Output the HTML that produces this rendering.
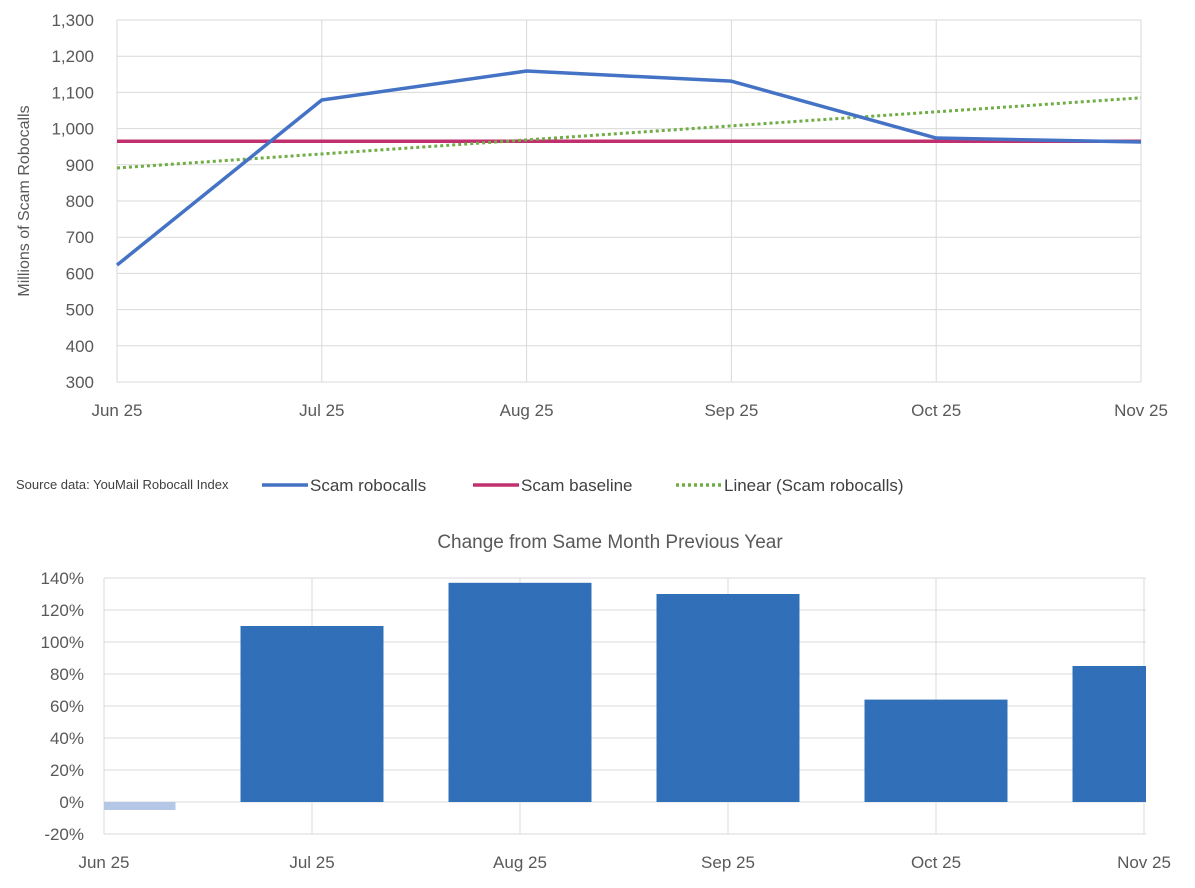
<!DOCTYPE html>
<html><head><meta charset="utf-8"><style>
body{margin:0;background:#fff;}
svg{display:block;font-family:"Liberation Sans",sans-serif;}
</style></head><body>
<svg id="c" width="1195" height="888"></svg>
<script>
const categories=["Jun 25","Jul 25","Aug 25","Sep 25","Oct 25","Nov 25"];
const scamValues=[623,1079,1159,1131,974,963];
const baselineValues=[965,965,965,965,965,965];
const yTicksTop=[300,400,500,600,700,800,900,1000,1100,1200,1300];
const changeValues=[-5,110,137,130,64,85];
const yTicksBottom=[-20,0,20,40,60,80,100,120,140];

const svg=document.getElementById('c');
const NS='http://www.w3.org/2000/svg';
function mk(tag,attrs,parent){const e=document.createElementNS(NS,tag);for(const k in attrs)e.setAttribute(k,attrs[k]);(parent||svg).appendChild(e);return e;}
const fmt=v=>v.toLocaleString('en-US');

// top chart
const T={l:117,r:1141,t:20,b:382,min:300,max:1300};
const tx=i=>T.l+i*(T.r-T.l)/(categories.length-1);
const ty=v=>T.b-(v-T.min)/(T.max-T.min)*(T.b-T.t);
const gTop=mk('g',{});

yTicksTop.forEach(v=>{
 const l=mk('line',{x1:T.l,x2:T.r,y1:ty(v),y2:ty(v),stroke:'#d9d9d9','stroke-width':1},gTop);
 
 const t=mk('text',{x:T.l-23,y:ty(v)+6,'text-anchor':'end','font-size':17,fill:'#595959'},gTop);
 t.textContent=fmt(v);
});
categories.forEach((c,i)=>{
 const l=mk('line',{x1:tx(i),x2:tx(i),y1:T.t,y2:T.b,stroke:'#d9d9d9','stroke-width':1},gTop);
 
 const t=mk('text',{x:tx(i),y:416,'text-anchor':'middle','font-size':17,fill:'#595959'},gTop);
 t.textContent=c;
});
const yt=mk('text',{x:0,y:0,transform:`translate(29,${(T.t+T.b)/2}) rotate(-90)`,'text-anchor':'middle','font-size':16,fill:'#595959'},gTop);
yt.textContent='Millions of Scam Robocalls';
// trend
const n=scamValues.length;const mx=(n-1)/2;const my=scamValues.reduce((a,b)=>a+b,0)/n;
let sxy=0,sxx=0;scamValues.forEach((v,i)=>{sxy+=(i-mx)*(v-my);sxx+=(i-mx)*(i-mx);});
const slope=sxy/sxx,icpt=my-slope*mx;
const bl=mk('polyline',{points:baselineValues.map((v,i)=>tx(i)+','+ty(v)).join(' '),fill:'none',stroke:'#c0306f','stroke-width':3.5},gTop);

const tr=mk('line',{x1:tx(0),y1:ty(icpt),x2:tx(n-1),y2:ty(icpt+slope*(n-1)),stroke:'#70ad47','stroke-width':3,'stroke-dasharray':'3 3'},gTop);

const sl=mk('polyline',{points:scamValues.map((v,i)=>tx(i)+','+ty(v)).join(' '),fill:'none',stroke:'#4472c4','stroke-width':3.5,'stroke-linejoin':'round'},gTop);


// legend
const gL=mk('g',{});
const src=mk('text',{x:16,y:489,'font-size':13,fill:'#404040'},gL);src.textContent='Source data: YouMail Robocall Index';

[[262,'#4472c4','','Scam robocalls',0],[473,'#c0306f','','Scam baseline',0],[676,'#70ad47','3 3','Linear (Scam robocalls)',1]].forEach(([x,col,da,lab])=>{
 const g=mk('g',{},gL);
 mk('line',{x1:x,x2:x+46,y1:485,y2:485,stroke:col,'stroke-width':3.5,'stroke-dasharray':da},g);
 const t=mk('text',{x:x+48,y:491,'font-size':17,fill:'#404040'},g);t.textContent=lab;
});

// bottom chart
const B={l:104,r:1146,t:578,b:834,min:-20,max:140,step:208,bw:143};
const bx=i=>B.l+i*B.step;
const by=v=>B.b-(v-B.min)/(B.max-B.min)*(B.b-B.t);
const gB=mk('g',{});
const ti=mk('text',{x:610,y:548,'text-anchor':'middle','font-size':19,fill:'#595959'},gB);
ti.textContent='Change from Same Month Previous Year';
yTicksBottom.forEach(v=>{
 const l=mk('line',{x1:B.l,x2:B.r,y1:by(v),y2:by(v),stroke:'#d9d9d9','stroke-width':1},gB);
 
 const t=mk('text',{x:B.l-20,y:by(v)+6,'text-anchor':'end','font-size':17,fill:'#595959'},gB);
 t.textContent=v+'%';
});
mk('line',{x1:B.l,x2:B.l,y1:B.t,y2:B.b,stroke:'#d9d9d9'},gB);
categories.forEach((c,i)=>{
 const l=mk('line',{x1:bx(i),x2:bx(i),y1:B.t,y2:B.b,stroke:'#d9d9d9','stroke-width':1},gB);
 
 const t=mk('text',{x:bx(i),y:868,'text-anchor':'middle','font-size':17,fill:'#595959'},gB);
 t.textContent=c;
});
changeValues.forEach((v,i)=>{
 let x0=Math.max(B.l,bx(i)-B.bw/2),x1=Math.min(B.r,bx(i)+B.bw/2);
 const y0=by(Math.max(v,0)),y1=by(Math.min(v,0));
 const r=mk('rect',{x:x0,y:y0,width:x1-x0,height:y1-y0,fill:v<0?'#b4c7e7':'#3170b8'},gB);
 
 
});
</script>
</body></html>
